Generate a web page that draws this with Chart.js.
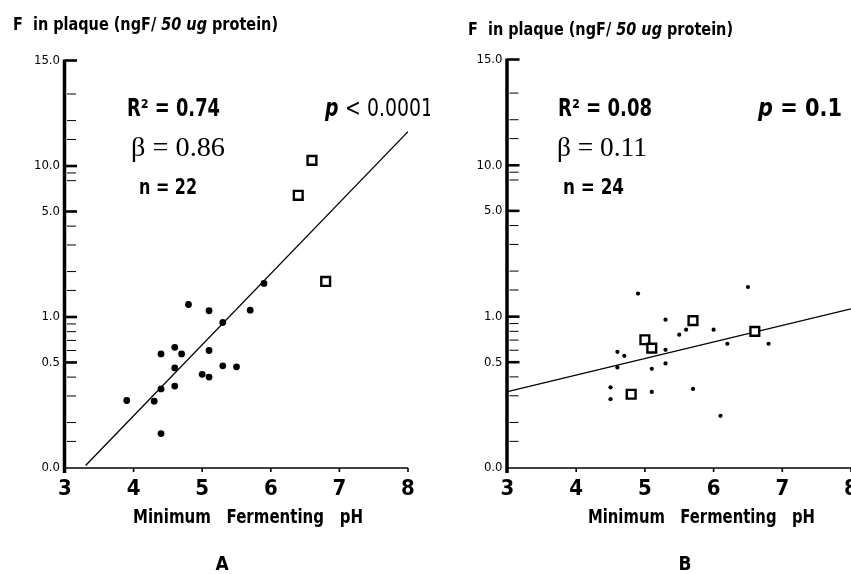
<!DOCTYPE html>
<html><head><meta charset="utf-8">
<script src="https://cdn.jsdelivr.net/npm/chart.js@4.4.1/dist/chart.umd.min.js"></script>
<style>
html,body{margin:0;padding:0;overflow:hidden;background:#fff;width:851px;height:574px;}
#ca{position:absolute;left:0;top:0;}
#cb{position:absolute;left:430px;top:0;}
</style></head><body>
<canvas id="ca" width="430" height="574"></canvas>
<canvas id="cb" width="440" height="574"></canvas>
<script>
// ---------- Panel A ----------
const phA_filled = [5.9, 4.8, 5.1, 5.7, 5.3, 4.4, 4.6, 4.7, 5.1, 4.6, 5.3, 5.5, 5.0, 5.1, 4.4, 4.6, 3.9, 4.3, 4.4];
const fA_filled  = [1.67, 1.21, 1.10, 1.11, 0.92, 0.57, 0.63, 0.57, 0.60, 0.46, 0.475, 0.468, 0.417, 0.40, 0.334, 0.349, 0.28, 0.277, 0.169];
const phA_open = [6.6, 6.4, 6.8];
const fA_open  = [10.9, 6.4, 1.72];
const fitA_ph = [3.3, 8.0];
const fitA_f  = [0.104, 16.9];
const statsA = {r2: '0.74', beta: '0.86', n: '22', p: '< 0.0001', letter: 'A'};

// ---------- Panel B ----------
const phB_filled = [4.9, 5.3, 5.6, 5.5, 5.3, 4.6, 4.7, 4.6, 5.1, 5.3, 4.5, 4.5, 5.1, 5.7, 6.5, 6.0, 6.2, 6.8, 6.1];
const fB_filled  = [1.42, 0.955, 0.82, 0.76, 0.604, 0.586, 0.551, 0.462, 0.452, 0.491, 0.341, 0.285, 0.318, 0.333, 1.57, 0.82, 0.662, 0.662, 0.221];
const phB_open = [5.7, 5.0, 5.1, 4.8, 6.6];
const fB_open  = [0.941, 0.704, 0.620, 0.307, 0.799];
const fitB_ph = [3.0, 8.0];
const fitB_f  = [0.32, 1.125];
const statsB = {r2: '0.08', beta: '0.11', n: '24', p: '= 0.1', letter: 'B'};

// ---------- Axes ----------
const xTicks = [3, 4, 5, 6, 7, 8];
const yTickValues = [0.1, 0.5, 1, 5, 10, 50];
const yTickLabels = ['0.0', '0.5', '1.0', '5.0', '10.0', '15.0'];
const yMinorTicks = [0.15, 0.2, 0.3, 0.4, 0.6, 0.7, 0.8, 0.9, 1.5, 2, 3, 4, 8, 9, 15, 20, 30];
const yTitle = 'F  in plaque (ngF/ ';
const yTitleItalic = '50 ug';
const yTitleEnd = ' protein)';
const xTitle = 'Minimum   Fermenting   pH';

const NARROW = "'Liberation Sans Narrow', 'DejaVu Sans Condensed', 'Arial Narrow', sans-serif";
const SERIF = "'Liberation Serif', 'DejaVu Serif', serif";
const fb = s => `bold ${s}px ${NARROW}`;
const fn = s => `${s}px ${NARROW}`;
const fi = s => `italic bold ${s}px ${NARROW}`;
const fs = s => `${s}px ${SERIF}`;

const pts = (xs, ys) => xs.map((x, i) => ({x, y: ys[i]}));

const axesPlugin = {
  id: 'axesDraw',
  afterDraw(chart) {
    const {ctx, chartArea: {left, right, top, bottom}, scales: {x, y}} = chart;
    ctx.save();
    ctx.strokeStyle = '#000';
    ctx.lineCap = 'butt';
    const line = (x1, y1, x2, y2, w) => { ctx.lineWidth = w; ctx.beginPath(); ctx.moveTo(x1, y1); ctx.lineTo(x2, y2); ctx.stroke(); };
    line(left, bottom, right, bottom, 1.6);
    line(left - 0.5, top - 1, left - 0.5, bottom + 5, 3.5);
    yTickValues.forEach(v => { if (v > 0.1) { const py = y.getPixelForValue(v); line(left, py, left + 12, py, 2.6); } });
    yMinorTicks.forEach(v => { const py = y.getPixelForValue(v); line(left + 2, py, left + 11, py, 1); });
    xTicks.forEach(v => { const px = x.getPixelForValue(v); line(px, bottom, px, bottom + 4, 1.6); });
    ctx.restore();
  }
};

// draws text segments, compressed horizontally to the width they have in the original figure
const textPlugin = {
  id: 'annot',
  afterDraw(chart, args, opts) {
    const ctx = chart.ctx;
    ctx.save();
    ctx.fillStyle = '#000';
    ctx.textBaseline = 'middle';
    ctx.textAlign = 'left';
    for (const item of opts.items) {
      let natural = 0;
      for (const s of item.segs) { ctx.font = s.f; natural += ctx.measureText(s.t).width; }
      const k = item.w ? item.w / natural : 1;
      const w = natural * k;
      const x0 = item.center ? item.x - w / 2 : item.x;
      ctx.save();
      ctx.translate(x0, item.y);
      ctx.scale(k, 1);
      let x = 0;
      for (const s of item.segs) {
        ctx.font = s.f;
        ctx.fillText(s.t, x, 0);
        x += ctx.measureText(s.t).width;
      }
      ctx.restore();
    }
    ctx.restore();
  }
};

function panel(id, c) {
  return new Chart(document.getElementById(id), {
    type: 'scatter',
    data: {datasets: [
      {label: 'fit', data: pts(c.fitX, c.fitY), showLine: true, borderColor: '#000', borderWidth: 1.3, pointRadius: 0, order: 3},
      {label: 'filled', data: pts(c.fx, c.fy), pointStyle: 'circle', pointRadius: c.dotR, backgroundColor: '#000', borderColor: '#000', borderWidth: 0, order: 2},
      {label: 'open', data: pts(c.ox, c.oy), pointStyle: 'rect', pointRadius: 6.2, backgroundColor: '#fff', borderColor: '#000', borderWidth: 2.4, order: 1}
    ]},
    options: {
      responsive: false, animation: false,
      layout: {padding: {top: c.top, right: c.padRight, left: 0, bottom: 0}},
      plugins: {legend: {display: false}, tooltip: {enabled: false}, title: {display: false}, annot: {items: c.texts}},
      scales: {
        x: {type: 'linear', position: 'bottom', min: 3, max: 8,
            afterBuildTicks: s => { s.ticks = xTicks.map(v => ({value: v})); },
            ticks: {padding: 8, color: '#000', font: {family: NARROW, size: 22, weight: 'bold'}, callback: v => String(v)},
            grid: {display: false, drawTicks: false}, border: {display: false},
            afterFit: s => { s.height = 574 - 468; }},
        y: {type: 'logarithmic', position: 'left', min: 0.1, max: 50,
            afterBuildTicks: s => { s.ticks = yTickValues.map(v => ({value: v})); },
            ticks: {padding: 5, color: '#000', font: {family: NARROW, size: 13}, callback: v => { const i = yTickValues.indexOf(v); return i >= 0 ? yTickLabels[i] : ''; }},
            grid: {display: false, drawTicks: false}, border: {display: false},
            afterFit: s => { s.width = c.yW; }}
      }
    },
    plugins: [axesPlugin, textPlugin]
  });
}

// L: layout positions (canvas pixels) of the annotation texts
function statTexts(st, L) {
  return [
    {x: L.title[0], y: L.title[1], w: 265, segs: [{t: yTitle, f: fb(18)}, {t: yTitleItalic, f: fi(18)}, {t: yTitleEnd, f: fb(18)}]},
    {x: L.r2[0], y: 110, w: L.r2[1], segs: [{t: 'R² = ' + st.r2, f: fb(24)}]},
    {x: L.beta[0], y: 149, w: L.beta[1], segs: [{t: 'β = ' + st.beta, f: fs(28)}]},
    {x: L.n[0], y: 189, w: L.n[1], segs: [{t: 'n = ' + st.n, f: fb(21)}]},
    {x: L.p[0], y: 110, w: L.p[1], segs: [{t: 'p ', f: fi(24)}, {t: st.p, f: L.pBold ? fb(24) : fn(24)}]},
    {x: L.xt, y: 518, w: L.xtW, segs: [{t: xTitle, f: fb(20)}]},
    {x: L.letter, y: 565, center: true, segs: [{t: st.letter, f: fb(19)}]}
  ];
}

panel('ca', {
  fx: phA_filled, fy: fA_filled, ox: phA_open, oy: fA_open, fitX: fitA_ph, fitY: fitA_f,
  dotR: 3.4, top: 60.5, padRight: 22, yW: 65,
  texts: statTexts(statsA, {title: [13, 25], r2: [127, 93], beta: [131, 94], n: [139, 58], p: [325, 108], pBold: false, xt: 133, xtW: 230, letter: 222})
});
panel('cb', {
  fx: phB_filled, fy: fB_filled, ox: phB_open, oy: fB_open, fitX: fitB_ph, fitY: fitB_f,
  dotR: 2.1, top: 59.5, padRight: 19, yW: 77.5,
  texts: statTexts(statsB, {title: [38, 30], r2: [128, 94], beta: [127, 90], n: [133, 61], p: [328, 84], pBold: true, xt: 158, xtW: 227, letter: 255})
});
</script>
</body></html>
